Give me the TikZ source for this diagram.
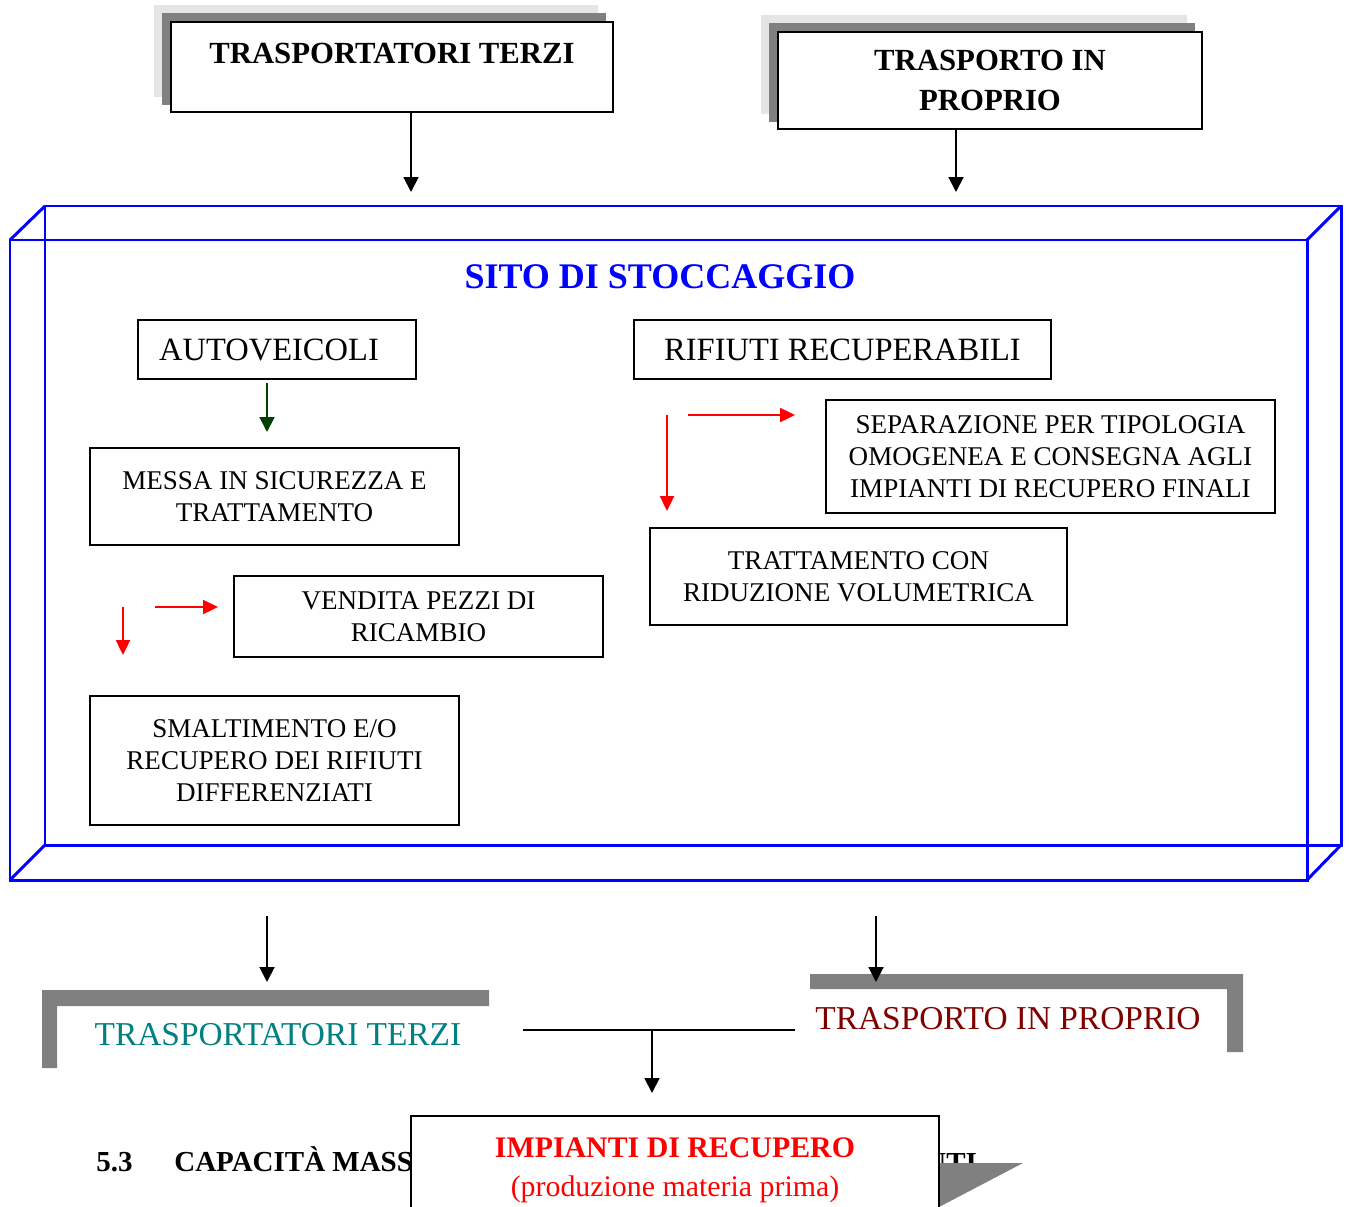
\documentclass[tikz,border=0pt]{standalone}
\usepackage{fontspec}
\setmainfont{Liberation Serif}
\usetikzlibrary{arrows.meta,calc,positioning,backgrounds}
\definecolor{sitoblue}{RGB}{0,0,255}
\definecolor{tealtxt}{RGB}{0,128,128}
\definecolor{darkred}{RGB}{128,0,0}
\definecolor{darkgreen}{RGB}{0,64,0}

\begin{document}
\begin{tikzpicture}[
x=0.02cm, y=-0.02cm,
box/.style={draw=black, fill=white, line width=1.1pt, align=center, inner sep=0pt},
headtxt/.style={font=\fontsize{17.5}{22.5}\selectfont\bfseries},
bigtxt/.style={font=\fontsize{18.5}{22}\selectfont},
smalltxt/.style={font=\fontsize{15.4}{18.2}\selectfont},
lowtxt/.style={font=\fontsize{19}{22}\selectfont, inner sep=0pt},
cube/.style={draw=sitoblue, line width=1.7pt},
arrow/.style={-{Triangle[length=8.5pt,width=8.5pt]}, line width=1.1pt, draw=black},
redarrow/.style={arrow, draw=red, -{Triangle[length=8.5pt,width=8pt,fill=red]}},
greenarrow/.style={arrow, draw=darkgreen},
bracket/.style={fill=black!50}
]
\useasboundingbox (0,0) rectangle (1349,1207);
\clip (0,0) rectangle (1349,1207);

% top boxes with shadows
\node[box, headtxt, minimum width=8.84cm, minimum height=1.8cm] (tt) at (392,67) {TRASPORTATORI TERZI\\[-6.8pt]\mbox{}};
\node[box, headtxt, minimum width=8.48cm, minimum height=1.94cm] (tp) at (990,80.5) {TRASPORTO IN\\PROPRIO};
\begin{pgfonlayer}{background}
\foreach \s/\c in {16/black!10, 8/black!50} {
  \fill[\c] ($(tt.north west)+(-\s,-\s)$) rectangle ($(tt.south east)+(-\s,-\s)$);
  \fill[\c] ($(tp.north west)+(-\s,-\s)$) rectangle ($(tp.south east)+(-\s,-\s)$);
}
\end{pgfonlayer}

\coordinate (ttin) at (411,192);
\coordinate (tpin) at (956,192);
\draw[arrow] (tt.south -| ttin) -- (ttin);
\draw[arrow] (tp.south -| tpin) -- (tpin);

% site box
\draw[cube] (10,240) rectangle (1307,880);
\draw[cube] (45,206) rectangle (1341,845);
\foreach \a/\b in {10/45, 1307/1341} {
  \draw[cube] (\a,240) -- (\b,206);
  \draw[cube] (\a,880) -- (\b,845);
}
\node[text=sitoblue, font=\fontsize{20.5}{24}\selectfont\bfseries] (sito) at (660,277) {SITO DI STOCCAGGIO};

% left column
\node[box, bigtxt, minimum width=5.56cm, minimum height=1.18cm] (auto) at (277,349.5) {AUTOVEICOLI\hspace{0.32cm}};
\node[box, smalltxt, minimum width=7.38cm, minimum height=1.94cm] (messa) at (274.5,496.5) {MESSA IN SICUREZZA E\\TRATTAMENTO};
\node[box, smalltxt, minimum width=7.38cm, minimum height=1.62cm] (vend) at (418.5,616.5) {VENDITA PEZZI DI\\RICAMBIO};
\node[box, smalltxt, minimum width=7.38cm, minimum height=2.58cm] (smalt) at (274.5,760.5) {SMALTIMENTO E/O\\RECUPERO DEI RIFIUTI\\DIFFERENZIATI};

\coordinate (g1) at (267,383);
\coordinate (g2) at (267,432);
\draw[greenarrow] (g1) -- (g2);
\coordinate (ld1) at (123,607);
\coordinate (ld2) at (123,655);
\coordinate (lr1) at (155,607);
\coordinate (lr2) at (218,607);
\draw[redarrow] (ld1) -- (ld2);
\draw[redarrow] (lr1) -- (lr2);

% right column
\node[box, bigtxt, minimum width=8.34cm, minimum height=1.18cm] (rifi) at (842.5,349.5) {RIFIUTI RECUPERABILI};
\node[box, smalltxt, minimum width=8.98cm, minimum height=2.26cm] (sepa) at (1050.5,456.5) {SEPARAZIONE PER TIPOLOGIA\\OMOGENEA E CONSEGNA AGLI\\IMPIANTI DI RECUPERO FINALI};
\node[box, smalltxt, minimum width=8.34cm, minimum height=1.94cm] (tratt) at (858.5,576.5) {TRATTAMENTO CON\\RIDUZIONE VOLUMETRICA};

\coordinate (rr1) at (688,415);
\coordinate (rr2) at (795,415);
\coordinate (rd1) at (667,415);
\coordinate (rd2) at (667,511);
\draw[redarrow] (rr1) -- (rr2);
\draw[redarrow] (rd1) -- (rd2);

% out of the site
\coordinate (o1) at (267,916);
\coordinate (o1e) at (267,982);
\coordinate (o2) at (876,916);
\coordinate (o2e) at (876,982);
\fill[bracket] (42,990) -- (489,990) -- (489,1006) -- (57,1006) -- (57,1068) -- (42,1068) -- cycle;
\fill[bracket] (810,974) -- (1243,974) -- (1243,1052) -- (1227,1052) -- (1227,989) -- (810,989) -- cycle;
\draw[arrow] (o1) -- (o1e);
\draw[arrow] (o2) -- (o2e);
\node[lowtxt, text=tealtxt] (ttlow) at (278,1035) {TRASPORTATORI TERZI};
\node[lowtxt, text=darkred] (tplow) at (1008,1019) {TRASPORTO IN PROPRIO};

\coordinate (jl) at (523,1030);
\coordinate (jr) at (795,1030);
\coordinate (jm) at (652,1030);
\coordinate (impin) at (652,1093);
\draw[line width=1.1pt] (jl) -- (jr);
\draw[arrow] (jm) -- (impin);

% heading behind the last box
\node[font=\fontsize{16.5}{19}\selectfont\bfseries, anchor=base west, inner sep=0pt] (num) at (96,1171) {5.3};
\node[font=\fontsize{16.5}{19}\selectfont\bfseries, anchor=base west, inner sep=0pt] (head) at (174,1171) {CAPACITÀ MASS};
\node[font=\fontsize{16.5}{19}\selectfont\bfseries, anchor=base west, inner sep=0pt] (headend) at (925,1172) {UTI};
\fill[black!50] (939,1163) -- (1023,1163) -- (939,1207) -- cycle;

\node[box, anchor=north, minimum width=10.56cm, minimum height=2.84cm, text=red, font=\fontsize{17}{22.2}\selectfont] (imp) at (675,1115) {\textbf{IMPIANTI DI RECUPERO}\\(produzione materia prima)\\\mbox{}};
\end{tikzpicture}
\end{document}
